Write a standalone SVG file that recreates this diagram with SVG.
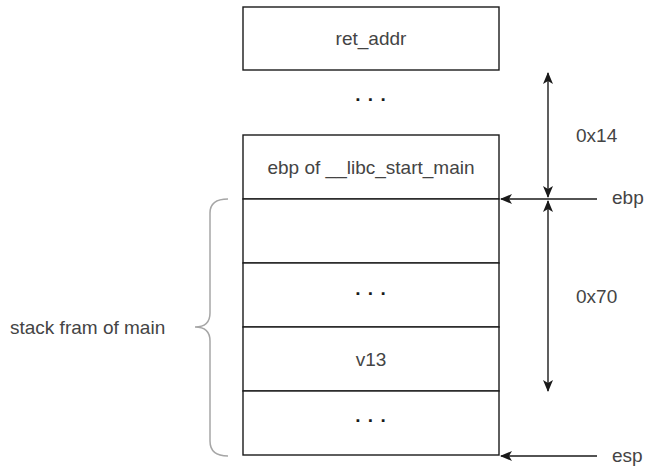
<svg xmlns="http://www.w3.org/2000/svg" width="645" height="468" viewBox="0 0 645 468">
<defs>
<style>
.box{fill:#fff;stroke:#1a1a1a;stroke-width:1.4}
.t{font-family:"Liberation Sans",Arial,sans-serif;font-size:19px;fill:#444}
.c{text-anchor:middle}
.dots{font-family:"Liberation Sans",Arial,sans-serif;font-size:19px;font-weight:bold;fill:#1a1a1a;text-anchor:middle;letter-spacing:1px}
.ln{fill:none;stroke:#1a1a1a;stroke-width:1.4}
.brace{fill:none;stroke:#a6a6a6;stroke-width:1.5}
</style>
<marker id="ah" viewBox="0 0 12 10" refX="11" refY="5" markerWidth="12" markerHeight="10" markerUnits="userSpaceOnUse" orient="auto-start-reverse">
<path d="M0,0 L12,5 L0,10 L3,5 Z" fill="#1a1a1a"/>
</marker>
</defs>
<rect width="645" height="468" fill="#fff"/>
<g id="ret_addr">
<rect class="box" x="243" y="7" width="256" height="63"/>
<text class="t c" x="371" y="45">ret_addr</text>
</g>
<g id="dots_top">
<text class="dots" x="371" y="101">. . .</text>
</g>
<g id="ebp_libc">
<rect class="box" x="243" y="135" width="256" height="64"/>
<text class="t c" x="371" y="174">ebp of __libc_start_main</text>
</g>
<g id="slot1">
<rect class="box" x="243" y="199" width="256" height="64"/>
</g>
<g id="slot2">
<rect class="box" x="243" y="263" width="256" height="64"/>
<text class="dots" x="371" y="295">. . .</text>
</g>
<g id="v13">
<rect class="box" x="243" y="327" width="256" height="64"/>
<text class="t c" x="371" y="366">v13</text>
</g>
<g id="slot4">
<rect class="box" x="243" y="391" width="256" height="64"/>
<text class="dots" x="371" y="422">. . .</text>
</g>
<g id="brace_main">
<path class="brace" d="M228,199 Q210,199 210,213 L210,313 Q210,327 195,327 Q210,327 210,341 L210,441 Q210,456 228,456"/>
<text class="t" x="10" y="334">stack fram of main</text>
</g>
<g id="labels">
<text class="t" x="576" y="142">0x14</text>
<text class="t" x="576" y="303">0x70</text>
<text class="t" x="612" y="204">ebp</text>
<text class="t" x="612" y="462">esp</text>
</g>
<g id="connectors">
<line class="ln" x1="597" y1="199" x2="501" y2="199" marker-end="url(#ah)"/>
<line class="ln" x1="597" y1="456" x2="501" y2="456" marker-end="url(#ah)"/>
<line class="ln" x1="548" y1="73" x2="548" y2="197" marker-start="url(#ah)" marker-end="url(#ah)"/>
<line class="ln" x1="548" y1="201" x2="548" y2="391" marker-start="url(#ah)" marker-end="url(#ah)"/>
</g>
</svg>
